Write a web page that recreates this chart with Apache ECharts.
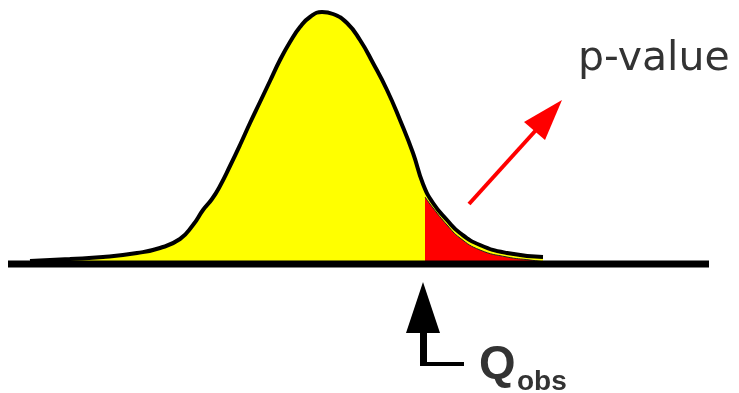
<!DOCTYPE html>
<html>
<head>
<meta charset="utf-8">
<script src="https://cdn.jsdelivr.net/npm/echarts@6/dist/echarts.min.js"></script>
<style>
  html, body { margin: 0; padding: 0; background: #fff; }
  #main { width: 739px; height: 393px; }
</style>
</head>
<body>
<div id="main"></div>
<script>
// null distribution curve (x position, height above baseline)
var curveX = [30, 70, 103, 137, 160, 180, 193, 203, 212, 220, 230, 240, 250, 260, 270, 280, 290, 300, 310, 322, 333, 347, 360, 373, 387, 400, 413, 423, 433, 447, 460, 480, 507, 543];
var curveY = [3, 5, 7, 11, 16, 25, 39, 54, 65, 78, 98, 119, 141, 162, 183, 204, 222, 237, 247, 252, 250, 241, 224, 201, 174, 144, 111, 80, 61, 44, 31, 19, 11, 7];

// p-value tail (right of Q_obs)
var tailX = [425, 433, 447, 460, 480, 507, 530, 545];
var tailY = [67, 56, 39, 26, 14, 7, 4, 2];

// baseline ends
var axisX = [8, 709];

function zip(xs, ys) {
    var out = [];
    for (var i = 0; i < xs.length; i++) {
        out.push([xs[i], ys[i]]);
    }
    return out;
}

var chart = echarts.init(document.getElementById('main'), null, { renderer: 'canvas' });

var option = {
    animation: false,
    backgroundColor: '#fff',
    grid: { left: 0, right: 0, top: 10, bottom: 129 },
    xAxis: { type: 'value', min: 0, max: 739, show: false },
    yAxis: { type: 'value', min: 0, max: 254, show: false },
    series: [
        {
            // yellow body
            type: 'line',
            data: zip(curveX, curveY),
            smooth: 0.5,
            symbol: 'none',
            lineStyle: { width: 0 },
            areaStyle: { color: '#ffff00', opacity: 1 },
            z: 1
        },
        {
            // red tail
            type: 'line',
            data: zip(tailX, tailY),
            smooth: 0.5,
            symbol: 'none',
            lineStyle: { color: '#222', width: 1 },
            areaStyle: { color: '#ff0000', opacity: 1 },
            z: 2
        },
        {
            // black outline
            type: 'line',
            data: zip(curveX, curveY),
            smooth: 0.5,
            symbol: 'none',
            lineStyle: { color: '#000', width: 4 },
            z: 3
        },
        {
            // baseline
            type: 'line',
            data: [[axisX[0], 0], [axisX[1], 0]],
            symbol: 'none',
            clip: false,
            lineStyle: { color: '#000', width: 7, cap: 'butt' },
            z: 4
        }
    ],
    graphic: [
        // left edge of the red tail
        {
            type: 'line',
            shape: { x1: 425.5, y1: 197, x2: 425.5, y2: 262 },
            style: { stroke: '#222', lineWidth: 1 }
        },
        // red arrow
        {
            type: 'line',
            shape: { x1: 469, y1: 204, x2: 537, y2: 129 },
            style: { stroke: '#ff0000', lineWidth: 4 }
        },
        {
            type: 'polygon',
            shape: { points: [[562, 100], [524, 122], [545, 140]] },
            style: { fill: '#ff0000' }
        },
        // black arrow at Q_obs
        {
            type: 'polygon',
            shape: { points: [[423, 282], [406, 333], [440, 333]] },
            style: { fill: '#000' }
        },
        {
            type: 'rect',
            shape: { x: 420, y: 330, width: 7, height: 32 },
            style: { fill: '#000' }
        },
        {
            type: 'rect',
            shape: { x: 420, y: 362, width: 44, height: 4 },
            style: { fill: '#000' }
        },
        // labels
        {
            type: 'text',
            x: 479, y: 342,
            style: {
                text: 'Q', fill: '#333',
                font: 'bold 47px "Liberation Sans", Arial, sans-serif',
                verticalAlign: 'top'
            }
        },
        {
            type: 'text',
            x: 517, y: 368,
            style: {
                text: 'obs', fill: '#333',
                font: 'bold 28px "Liberation Sans", Arial, sans-serif',
                verticalAlign: 'top'
            }
        },
        {
            type: 'text',
            x: 578, y: 39,
            style: {
                text: 'p-value', fill: '#333',
                font: '41px "DejaVu Sans", sans-serif',
                verticalAlign: 'top'
            }
        }
    ]
};

chart.setOption(option);
</script>
</body>
</html>
